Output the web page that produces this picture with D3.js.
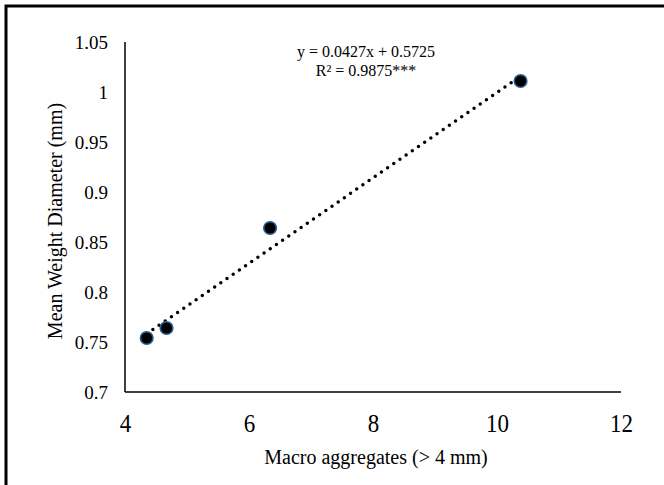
<!DOCTYPE html>
<html><head><meta charset="utf-8">
<script src="https://cdn.jsdelivr.net/npm/d3@7"></script>
<style>body{margin:0;background:#fff}svg{display:block}</style>
</head><body>
<svg id="c" width="664" height="485"></svg>
<script>
const xValues = [4.35, 4.67, 6.34, 10.38];
const yValues = [0.754, 0.764, 0.864, 1.011];
const xTicks = [4, 6, 8, 10, 12];
const yTicks = [0.7, 0.75, 0.8, 0.85, 0.9, 0.95, 1, 1.05];
const slope = 0.0427, intercept = 0.5725;
const eqLabel = "y = 0.0427x + 0.5725";
const r2Label = "R² = 0.9875***";
const xTitle = "Macro aggregates (> 4 mm)";
const yTitle = "Mean Weight Diameter (mm)";

const FONT = "'Liberation Serif','Times New Roman',serif";
const svg = d3.select("#c");
svg.append("rect").attr("x",6).attr("y",6).attr("width",670).attr("height",490)
  .attr("fill","none").attr("stroke","#000").attr("stroke-width",3);

const x = d3.scaleLinear().domain([4,12]).range([125,621]);
const y = d3.scaleLinear().domain([0.7,1.05]).range([392,42]);

const xAxis = svg.append("g").attr("transform","translate(0,392)")
  .call(d3.axisBottom(x).tickValues(xTicks).tickSize(0).tickPadding(19).tickFormat(d3.format("d")));
xAxis.attr("font-family",FONT);
xAxis.select(".domain").attr("stroke","#000").attr("stroke-width",1.5).attr("d","M125,0H621");
xAxis.selectAll("text").style("font-family",FONT).style("font-size","23px").attr("fill","#000")
  .attr("transform","scale(1,1.12)");

const yAxis = svg.append("g").attr("transform","translate(125,0)")
  .call(d3.axisLeft(y).tickValues(yTicks).tickSize(0).tickPadding(17).tickFormat(d => String(d)));
yAxis.attr("font-family",FONT);
yAxis.select(".domain").attr("stroke","#000").attr("stroke-width",1.5).attr("d","M0,42V392");
yAxis.selectAll("text").style("font-family",FONT).style("font-size","19px").attr("fill","#000");

// trendline
const x0 = xValues[0], x1 = xValues[xValues.length-1];
svg.append("line")
  .attr("x1",x(x0)).attr("y1",y(slope*x0+intercept))
  .attr("x2",x(x1)).attr("y2",y(slope*x1+intercept))
  .attr("stroke","#000").attr("stroke-width",3.5)
  .attr("stroke-linecap","round").attr("stroke-dasharray","0 7.5");

svg.append("g").selectAll("circle").data(xValues).join("circle")
  .attr("cx",(d)=>x(d)).attr("cy",(d,i)=>y(yValues[i])).attr("r",6.3)
  .attr("fill","#000").attr("stroke","#2e5f94").attr("stroke-width",1.6);

const txt = (xx, yy, size, s, anchor) => svg.append("text").attr("x",xx).attr("y",yy)
  .attr("text-anchor",anchor||"middle").style("font-family",FONT).style("font-size",size+"px").attr("fill","#000").text(s);
txt(366,57,16,eqLabel);
txt(366,76,16,r2Label);
txt(376,464,20,xTitle);
svg.append("text").attr("transform","translate(62,221) rotate(-90)").attr("text-anchor","middle")
  .style("font-family",FONT).style("font-size","20px").attr("fill","#000").text(yTitle);
</script>
</body></html>
